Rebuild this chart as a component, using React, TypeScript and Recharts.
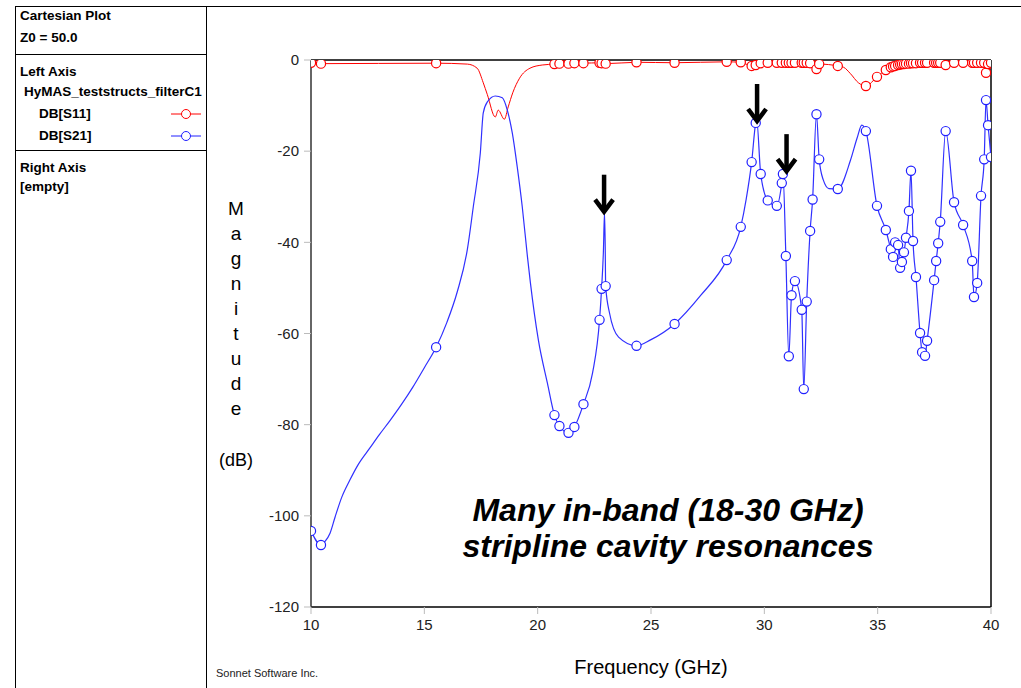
import React from 'react';
import { LineChart, Line, XAxis, YAxis, ReferenceLine, ReferenceDot } from 'recharts';

// [frequency GHz, dB, 1 = simulated point (circle marker)]
const s21: [number, number, number][] = [
  [10.0, -103.3, 1], [10.44, -106.4, 1], [10.62, -105.6, 0], [10.84, -103.8, 0],
  [11.06, -100.3, 0], [11.35, -96.0, 0], [11.72, -92.1, 0], [12.1, -88.6, 0],
  [12.6, -85.1, 0], [13.0, -82.3, 0], [13.5, -79.0, 0], [14.0, -75.5, 0],
  [14.5, -71.7, 0], [15.0, -67.5, 0], [15.52, -63.0, 1], [16.0, -57.5, 0],
  [16.45, -50.9, 0], [16.9, -41.5, 0], [17.16, -32.2, 0],
  [17.47, -20.4, 0], [17.6, -11.6, 0], [17.78, -9.2, 0], [18.13, -7.9, 0],
  [18.44, -8.3, 0], [18.66, -11.0, 0], [18.88, -16.0, 0], [19.1, -23.5, 0],
  [19.32, -32.2, 0], [19.55, -43.2, 0], [19.68, -48.9, 0], [20.03, -61.4, 0],
  [20.43, -70.9, 0], [20.74, -77.9, 1], [20.96, -80.3, 1], [21.36, -81.8, 1],
  [21.62, -80.5, 1], [22.02, -75.5, 1], [22.42, -68.7, 0], [22.73, -57.0, 1],
  [22.82, -50.2, 1], [22.9, -42.0, 0], [22.95, -33.5, 0], [22.98, -41.0, 0],
  [23.0, -49.6, 1], [23.17, -55.5, 0], [23.57, -60.8, 0], [24.36, -62.7, 1],
  [24.98, -61.4, 0], [26.04, -57.9, 1], [27.2, -51.6, 0], [28.34, -43.9, 1],
  [28.96, -36.6, 1], [29.2, -30.5, 0], [29.44, -22.4, 1], [29.62, -13.8, 1],
  [29.66, -13.0, 0], [29.84, -25.0, 1], [30.15, -30.8, 1], [30.55, -32.0, 1],
  [30.77, -27.0, 1], [30.82, -25.0, 1], [30.95, -43.0, 1], [31.08, -65.0, 1],
  [31.2, -51.6, 1], [31.35, -48.5, 1], [31.65, -54.8, 1], [31.74, -72.2, 1],
  [31.87, -53.0, 1], [32.02, -37.5, 1], [32.13, -30.6, 1], [32.3, -11.9, 1],
  [32.42, -21.8, 1], [32.6, -26.3, 0], [32.85, -28.2, 0], [33.24, -28.3, 1],
  [33.8, -22.0, 0], [34.1, -17.0, 0], [34.3, -14.3, 0], [34.48, -15.6, 1],
  [34.97, -32.0, 1], [35.36, -37.3, 1], [35.58, -41.5, 1], [35.68, -43.2, 1],
  [35.77, -40.0, 1], [35.9, -40.6, 1], [35.99, -45.6, 1], [36.07, -44.3, 1],
  [36.16, -42.2, 1], [36.25, -39.0, 1], [36.38, -33.1, 1], [36.47, -24.3, 1],
  [36.56, -39.7, 1], [36.69, -47.6, 1], [36.87, -59.9, 1], [36.96, -64.1, 1],
  [37.09, -64.9, 1], [37.18, -61.6, 1], [37.49, -48.3, 1], [37.58, -44.1, 1],
  [37.67, -40.2, 1], [37.76, -35.5, 1], [38.0, -15.6, 1], [38.37, -31.2, 1],
  [38.77, -36.2, 1], [39.17, -44.1, 1], [39.25, -52.0, 1], [39.39, -48.9, 1],
  [39.56, -29.8, 1], [39.7, -21.8, 1], [39.78, -8.8, 1], [39.87, -14.3, 1],
  [40.0, -21.3, 1],
];

const s11: [number, number, number][] = [
  [10.0, -0.6, 1], [10.44, -0.8, 1], [15.52, -0.7, 1], [16.9, -0.9, 0],
  [17.33, -1.8, 0], [17.6, -5.0, 0], [17.78, -7.6, 0], [18.13, -12.5, 0],
  [18.26, -11.0, 0], [18.53, -13.0, 0], [18.7, -10.3, 0], [18.9, -7.2, 0],
  [19.2, -4.0, 0], [19.66, -1.8, 0], [20.2, -1.1, 0], [20.74, -0.9, 1],
  [20.96, -0.8, 1], [21.36, -0.8, 1], [21.62, -0.7, 1], [22.02, -0.7, 1],
  [22.73, -0.6, 1], [22.82, -0.7, 1], [23.0, -0.8, 1], [24.36, -0.5, 1],
  [26.04, -0.6, 1], [28.34, -0.4, 1], [28.96, -0.5, 1], [29.44, -1.3, 1],
  [29.62, -1.1, 1], [29.84, -0.7, 1], [30.15, -0.6, 1], [30.55, -0.6, 1],
  [30.77, -0.6, 1], [30.95, -0.6, 1], [31.08, -0.6, 1], [31.2, -0.6, 1],
  [31.35, -0.6, 1], [31.65, -0.6, 1], [31.74, -0.6, 1], [31.87, -0.6, 1],
  [32.02, -0.7, 1], [32.3, -2.0, 1], [32.42, -0.9, 1], [33.24, -1.3, 1],
  [33.5, -1.6, 0], [33.8, -3.0, 0], [34.15, -5.0, 0], [34.48, -5.7, 1],
  [34.97, -3.7, 1], [35.36, -2.2, 1], [35.58, -1.6, 1], [35.68, -1.4, 1],
  [35.77, -1.3, 1], [35.9, -1.1, 1], [35.99, -1.0, 1], [36.07, -0.9, 1],
  [36.16, -0.9, 1], [36.25, -0.8, 1], [36.38, -0.8, 1], [36.47, -0.7, 1],
  [36.56, -0.7, 1], [36.69, -0.7, 1], [36.87, -0.6, 1], [36.96, -0.6, 1],
  [37.09, -0.6, 1], [37.18, -0.6, 1], [37.49, -0.6, 1], [37.58, -0.6, 1],
  [37.67, -0.6, 1], [37.76, -0.6, 1], [38.0, -1.1, 1], [38.37, -0.6, 1],
  [38.77, -0.6, 1], [39.17, -0.6, 1], [39.25, -0.6, 1], [39.39, -0.6, 1],
  [39.56, -0.6, 1], [39.7, -0.6, 1], [39.78, -2.8, 1], [39.87, -0.9, 1],
  [40.0, -0.6, 1],
];

const xTicks = [10, 15, 20, 25, 30, 35, 40];
const yTicks = [0, -20, -40, -60, -80, -100, -120];

// arrow tips pointing at the resonances
const arrows: [number, number][] = [
  [22.93, -33.5],
  [29.68, -13.6],
  [30.98, -24.6],
];

const yLetters = ['M', 'a', 'g', 'n', 'i', 't', 'u', 'd', 'e'];

const toRows = (arr: [number, number, number][]) => arr.map(([f, db, m]) => ({ f, db, m }));

const markerDot = (color: string) => (props: any) => {
  const { cx, cy, payload, index } = props;
  if (!payload.m) return <g key={'d' + index} />;
  return <circle key={'d' + index} cx={cx} cy={cy} r={4.6} fill="#fff" stroke={color} strokeWidth={1.2} />;
};

const Arrow = (props: any) => {
  const { cx, cy } = props;
  return (
    <g stroke="#000" strokeWidth={4.5} fill="none">
      <line x1={cx} y1={cy - 38} x2={cx} y2={cy - 3} />
      <polyline points={`${cx - 9},${cy - 13} ${cx},${cy - 1} ${cx + 9},${cy - 13}`} />
    </g>
  );
};

const font = '"Liberation Sans", Arial, sans-serif';
const panelText: React.CSSProperties = { position: 'absolute', fontFamily: font, fontWeight: 'bold', fontSize: 13.5, lineHeight: '16px', color: '#000', whiteSpace: 'nowrap' };

export default function App() {
  return (
    <div style={{ position: 'absolute', left: 0, top: 0, width: 1021, height: 688, background: '#fff', overflow: 'hidden' }}>
      <LineChart width={1021} height={688} margin={{ top: 60, right: 30, bottom: 51, left: 271 }} style={{ position: 'absolute', left: 0, top: 0 }}>
        <XAxis dataKey="f" type="number" domain={[10, 40]} ticks={xTicks} allowDataOverflow height={30}
          axisLine={{ stroke: '#000', strokeWidth: 1.5 }} tickLine={{ stroke: '#bbb' }} tickSize={7} tickMargin={5}
          tick={{ fill: '#222', fontSize: 15, fontFamily: font }} />
        <YAxis dataKey="db" type="number" domain={[-120, 0]} ticks={yTicks} allowDataOverflow width={40}
          axisLine={{ stroke: '#333', strokeWidth: 1.5 }} tickLine={{ stroke: '#bbb' }} tickSize={7} tickMargin={5}
          tick={{ fill: '#222', fontSize: 15, fontFamily: font }} />
        <ReferenceLine y={0} stroke="#000" strokeWidth={1.5} />
        <ReferenceLine x={40} stroke="#000" strokeWidth={1.5} />
        <Line data={toRows(s11)} dataKey="db" type="monotoneX" stroke="#ff0000" strokeWidth={1} dot={markerDot('#ff0000')} activeDot={false} isAnimationActive={false} />
        <Line data={toRows(s21)} dataKey="db" type="monotoneX" stroke="#3030ff" strokeWidth={1.2} dot={markerDot('#2020ff')} activeDot={false} isAnimationActive={false} />
        {arrows.map(([f, db], i) => (
          <ReferenceDot key={i} x={f} y={db} shape={Arrow} ifOverflow="visible" />
        ))}
      </LineChart>

      {/* frame and legend panel */}
      <div style={{ position: 'absolute', left: 15, top: 6, width: 1006, height: 0, borderTop: '1px solid #000' }} />
      <div style={{ position: 'absolute', left: 15, top: 6, width: 0, height: 682, borderLeft: '1px solid #000' }} />
      <div style={{ position: 'absolute', left: 206, top: 6, width: 0, height: 682, borderLeft: '1px solid #000' }} />
      <div style={{ position: 'absolute', left: 15, top: 54, width: 191, height: 0, borderTop: '1px solid #000' }} />
      <div style={{ position: 'absolute', left: 15, top: 150, width: 191, height: 0, borderTop: '1px solid #000' }} />

      <div style={{ ...panelText, left: 20, top: 8 }}>Cartesian Plot</div>
      <div style={{ ...panelText, left: 20, top: 30 }}>Z0 = 50.0</div>
      <div style={{ ...panelText, left: 20, top: 64 }}>Left Axis</div>
      <div style={{ ...panelText, left: 24, top: 84 }}>HyMAS_teststructs_filterC1</div>
      <div style={{ ...panelText, left: 39, top: 106 }}>DB[S11]</div>
      <div style={{ ...panelText, left: 39, top: 128 }}>DB[S21]</div>
      <div style={{ ...panelText, left: 20, top: 160 }}>Right Axis</div>
      <div style={{ ...panelText, left: 20, top: 179 }}>[empty]</div>
      <svg style={{ position: 'absolute', left: 170, top: 105, width: 32, height: 40 }}>
        <line x1={1} y1={9} x2={31} y2={9} stroke="#ff0000" />
        <circle cx={16} cy={9} r={4.5} fill="#fff" stroke="#ff0000" />
        <line x1={1} y1={31} x2={31} y2={31} stroke="#2020ff" />
        <circle cx={16} cy={31} r={4.5} fill="#fff" stroke="#2020ff" />
      </svg>

      {/* y-axis title, stacked letters */}
      {yLetters.map((ch, i) => (
        <div key={i} style={{ position: 'absolute', left: 216, width: 40, top: 198 + i * 25, textAlign: 'center', fontFamily: font, fontSize: 19, lineHeight: '22px' }}>{ch}</div>
      ))}
      <div style={{ position: 'absolute', left: 216, width: 40, top: 449, textAlign: 'center', fontFamily: font, fontSize: 18, lineHeight: '22px' }}>(dB)</div>

      <div style={{ position: 'absolute', left: 450, width: 402, top: 656, textAlign: 'center', fontFamily: font, fontSize: 20, lineHeight: '22px' }}>Frequency (GHz)</div>
      <div style={{ position: 'absolute', left: 216, top: 667, fontFamily: font, fontSize: 11, lineHeight: '13px', color: '#222' }}>Sonnet Software Inc.</div>

      <div style={{ position: 'absolute', left: 368, width: 600, top: 492, textAlign: 'center', fontFamily: font, fontSize: 32, fontWeight: 'bold', fontStyle: 'italic', lineHeight: '36px' }}>
        Many in-band (18-30 GHz)<br />stripline cavity resonances
      </div>
    </div>
  );
}
